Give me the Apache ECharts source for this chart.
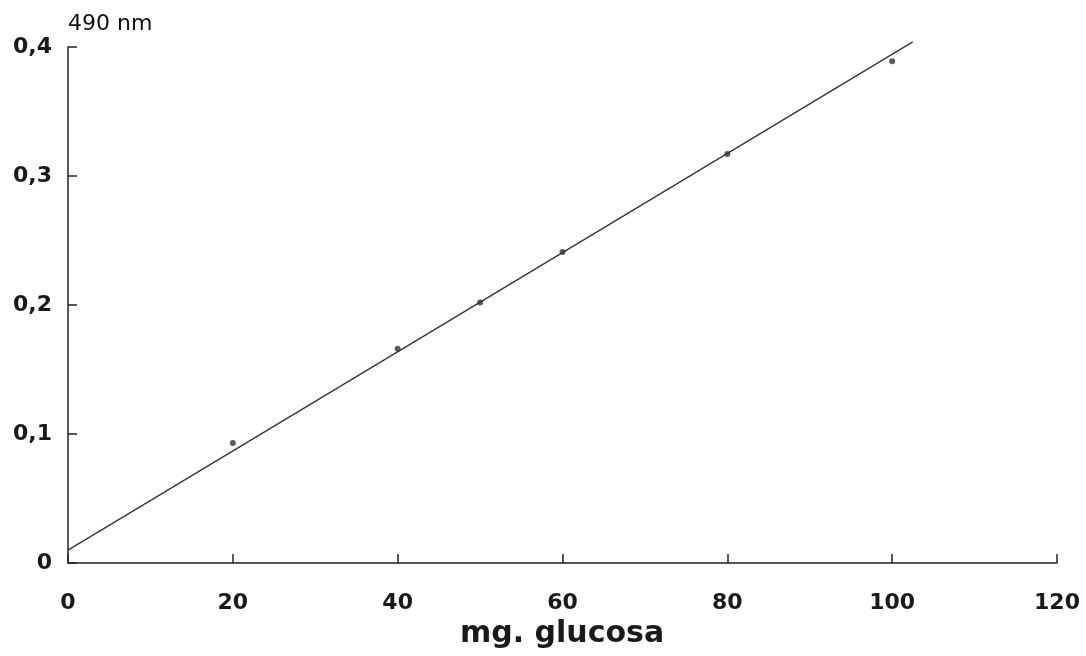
<!DOCTYPE html>
<html>
<head>
  <meta charset="UTF-8">
  <title>glucosa</title>
  <script src="https://cdn.jsdelivr.net/npm/echarts@6/dist/echarts.min.js"></script>
  <style>
    html, body { margin: 0; padding: 0; background: #fff; }
    #chart { width: 1086px; height: 656px; }
  </style>
</head>
<body>
  <div id="chart"></div>
  <script>
    // measured points (mg glucosa, absorbance at 490 nm)
    var glucosa = [20, 40, 50, 60, 80, 100];
    var absorb = [0.093, 0.166, 0.202, 0.241, 0.317, 0.389];
    // fitted line ends
    var fitX = [0, 102.5];
    var fitY = [0.010, 0.404];
    var xTicks = [0, 20, 40, 60, 80, 100, 120];

    var chart = echarts.init(document.getElementById('chart'));
    var font = 'DejaVu Sans, sans-serif';

    var option = {
      animation: false,
      backgroundColor: '#fff',
      title: [
        { text: '490 nm', left: 63, top: 8, textStyle: { fontFamily: font, fontSize: 22, fontWeight: 'normal', color: '#111' } },
        { text: 'mg. glucosa', left: 455, top: 614, textStyle: { fontFamily: font, fontSize: 30, fontWeight: 'bold', color: '#1a1a1a' } }
      ],
      grid: { left: 68, right: 29, top: 47, bottom: 93, containLabel: false },
      xAxis: {
        type: 'value', min: 0, max: 120, interval: 20,
        axisLine: { lineStyle: { color: '#222', width: 1.5 } },
        axisTick: { inside: true, length: 9, lineStyle: { color: '#222', width: 1.5 } },
        splitLine: { show: false },
        axisLabel: {
          margin: 29, fontSize: 22, fontWeight: 'bold', fontFamily: font, color: '#1a1a1a',
          formatter: function (v) { return xTicks.indexOf(v) >= 0 ? String(v) : ''; }
        }
      },
      yAxis: {
        type: 'value', min: 0, max: 0.4, interval: 0.1,
        axisLine: { show: true, lineStyle: { color: '#222', width: 1.5 } },
        axisTick: { show: true, inside: true, length: 9, lineStyle: { color: '#222', width: 1.5 } },
        splitLine: { show: false },
        axisLabel: {
          margin: 16, fontSize: 22, fontWeight: 'bold', fontFamily: font, color: '#1a1a1a',
          formatter: function (v) { return v === 0 ? '0' : v.toFixed(1).replace('.', ','); }
        }
      },
      series: [
        {
          type: 'line',
          clip: false,
          data: fitX.map(function (x, i) { return [x, fitY[i]]; }),
          showSymbol: false,
          lineStyle: { color: '#333', width: 1.3 }
        },
        {
          type: 'scatter',
          data: glucosa.map(function (x, i) { return [x, absorb[i]]; }),
          symbolSize: 6,
          itemStyle: { color: '#333' }
        }
      ]
    };
    chart.setOption(option);
  </script>
</body>
</html>
